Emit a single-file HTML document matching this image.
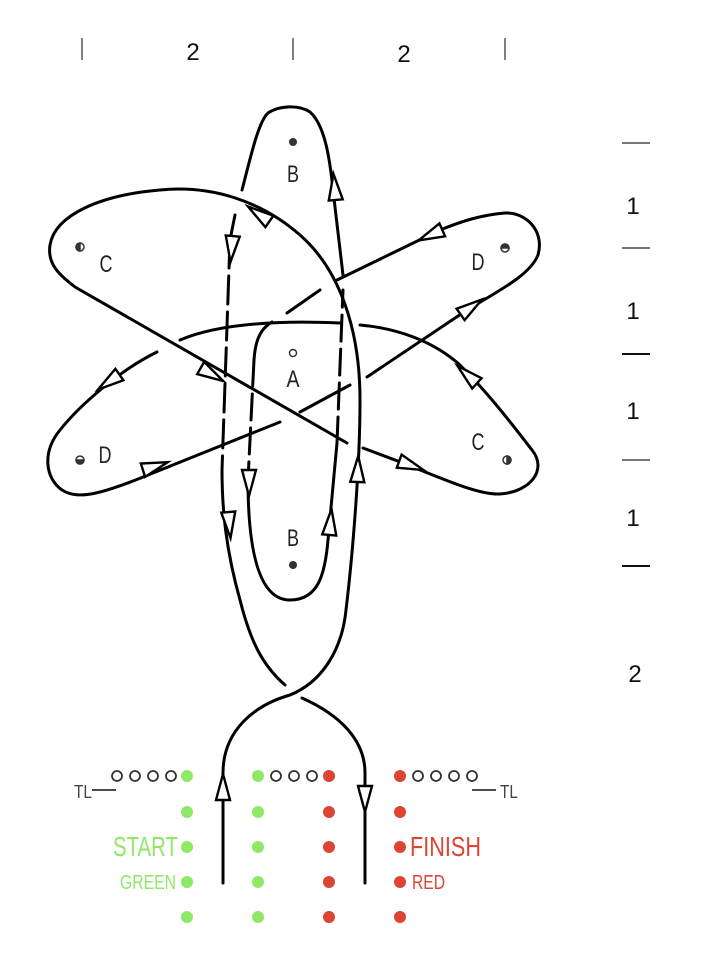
<!DOCTYPE html>
<html><head><meta charset="utf-8"><style>
html,body{margin:0;padding:0;background:#fff;}
svg{display:block;}
text{font-family:"Liberation Sans",sans-serif;}
</style></head><body>
<svg width="718" height="964" viewBox="0 0 718 964" xmlns="http://www.w3.org/2000/svg">
<g stroke="#555" stroke-width="1.5">
<line x1="82" y1="38" x2="82" y2="60"/><line x1="293" y1="38" x2="293" y2="60"/><line x1="505" y1="38" x2="505" y2="60"/>
</g>
<g font-size="24" fill="#111" text-anchor="middle">
<text x="193" y="60">2</text><text x="404" y="62">2</text>
</g>
<g stroke="#777" stroke-width="2">
<line x1="622" y1="143" x2="650" y2="143"/><line x1="622" y1="248" x2="650" y2="248"/>
<line x1="622" y1="354" x2="650" y2="354" stroke="#111"/><line x1="622" y1="460" x2="650" y2="460"/>
<line x1="622" y1="566" x2="650" y2="566" stroke="#111"/>
</g>
<g font-size="24" fill="#111" text-anchor="middle">
<text x="633" y="214">1</text><text x="633" y="319">1</text><text x="633" y="419">1</text><text x="633" y="526">1</text><text x="635" y="682">2</text>
</g>

<g fill="none" stroke="#000" stroke-width="3" stroke-linecap="round">
<path d="M223,883 L223,773 C223,730 255,705 290,695 C322,682 342,650 346,610 C352,560 360,470 360,400 C360,330 340,270 300,235 C260,200 210,185 160,190 C100,195 55,215 50,245 C47,265 60,275 75,287 L347,443"/>
<path d="M363,448 L403,463 C450,482 480,495 500,494 C530,492 548,470 532,450 C515,428 490,395 460,365 C432,340 395,328 360,325"/>
<path d="M340,323 C270,320 215,325 180,340"/>
<path d="M157,352 C120,370 80,405 60,430 C42,452 45,478 62,490 C78,500 100,495 153,473 L280,422"/>
<path d="M300,412 L350,385"/>
<path d="M367,377 L467,310 C500,290 530,275 538,255 C545,230 525,212 505,213 C480,215 460,222 440,230 L337,280"/>
<path d="M320,290 L287,313"/>
<path d="M272,322 C258,330 255,345 254,360"/>
<path d="M254,360 L248,480" stroke-dasharray="26 8"/>
<path d="M248,480 C248,560 262,600 290,600 C318,600 325,575 328,540 L337,443"/>
<path d="M337,443 L343,290" stroke-dasharray="26 8"/>
<path d="M343,275 L333,190 C330,160 325,125 310,112 C300,105 280,105 268,113 C258,122 250,160 242,190"/>
<path d="M235,215 L230,240"/>
<path d="M230,240 L222,470" stroke-dasharray="28 8"/>
<path d="M222,470 C222,510 226,550 240,600 C250,640 262,665 285,685"/>
<path d="M302,698 C340,715 365,740 365,773 L365,883"/>
</g>
<g fill="#fff" stroke="#000" stroke-width="2.4" stroke-linejoin="miter">
<polygon points="6,0 -20,-7 -20,7" transform="translate(334,180) rotate(-95)"/>
<polygon points="6,0 -20,-7 -20,7" transform="translate(231,256) rotate(95)"/>
<polygon points="6,0 -20,-7 -20,7" transform="translate(253,210) rotate(-145)"/>
<polygon points="6,0 -20,-7 -20,7" transform="translate(424,238) rotate(156)"/>
<polygon points="6,0 -20,-7 -20,7" transform="translate(477,303) rotate(-35)"/>
<polygon points="6,0 -20,-7 -20,7" transform="translate(218,378) rotate(30)"/>
<polygon points="6,0 -20,-7 -20,7" transform="translate(462,370) rotate(-138)"/>
<polygon points="6,0 -20,-7 -20,7" transform="translate(418,468) rotate(20)"/>
<polygon points="6,0 -20,-7 -20,7" transform="translate(103,386) rotate(145)"/>
<polygon points="6,0 -20,-7 -20,7" transform="translate(162,464) rotate(-18)"/>
<polygon points="6,0 -20,-7 -20,7" transform="translate(249,490) rotate(90)"/>
<polygon points="6,0 -20,-7 -20,7" transform="translate(331,515) rotate(-85)"/>
<polygon points="6,0 -20,-7 -20,7" transform="translate(358,462) rotate(-88)"/>
<polygon points="6,0 -20,-7 -20,7" transform="translate(230,532) rotate(85)"/>
<polygon points="6,0 -20,-7 -20,7" transform="translate(223,780) rotate(-90)"/>
<polygon points="6,0 -20,-7 -20,7" transform="translate(365,806) rotate(90)"/>
</g>
<g font-size="24" fill="#222" text-anchor="middle">
<text x="293" y="182" textLength="12" lengthAdjust="spacingAndGlyphs">B</text>
<text x="293" y="546" textLength="12" lengthAdjust="spacingAndGlyphs">B</text>
<text x="293" y="387" textLength="13" lengthAdjust="spacingAndGlyphs">A</text>
<text x="106" y="272" textLength="13" lengthAdjust="spacingAndGlyphs">C</text>
<text x="478" y="270" textLength="13" lengthAdjust="spacingAndGlyphs">D</text>
<text x="478" y="450" textLength="13" lengthAdjust="spacingAndGlyphs">C</text>
<text x="105" y="463" textLength="13" lengthAdjust="spacingAndGlyphs">D</text>
</g>
<g fill="#333">
<circle cx="293" cy="142" r="4"/><circle cx="293" cy="565" r="4"/>
</g>
<circle cx="293" cy="353" r="3.5" fill="#fff" stroke="#333" stroke-width="1.5"/>
<g stroke="#333" stroke-width="1.5">
<circle cx="80" cy="247" r="4" fill="#fff"/><path d="M80,243 A4,4 0 0,0 80,251 Z" fill="#333"/>
<circle cx="505" cy="248" r="4" fill="#fff"/><path d="M501,248 A4,4 0 0,1 509,248 Z" fill="#333"/>
<circle cx="507" cy="460" r="4" fill="#fff"/><path d="M507,456 A4,4 0 0,1 507,464 Z" fill="#333"/>
<circle cx="80" cy="460" r="4" fill="#fff"/><path d="M76,460 A4,4 0 0,0 84,460 Z" fill="#333"/>
</g>
<g fill="#8fe868">
<circle cx="187" cy="776" r="6"/><circle cx="187" cy="812" r="6"/><circle cx="187" cy="847" r="6"/><circle cx="187" cy="882" r="6"/><circle cx="187" cy="917" r="6"/>
<circle cx="258" cy="776" r="6"/><circle cx="258" cy="812" r="6"/><circle cx="258" cy="847" r="6"/><circle cx="258" cy="882" r="6"/><circle cx="258" cy="917" r="6"/>
</g>
<g fill="#dd4433">
<circle cx="329" cy="776" r="6"/><circle cx="329" cy="812" r="6"/><circle cx="329" cy="847" r="6"/><circle cx="329" cy="882" r="6"/><circle cx="329" cy="917" r="6"/>
<circle cx="400" cy="776" r="6"/><circle cx="400" cy="812" r="6"/><circle cx="400" cy="847" r="6"/><circle cx="400" cy="882" r="6"/><circle cx="400" cy="917" r="6"/>
</g>
<g fill="none" stroke="#333" stroke-width="1.8">
<circle cx="117" cy="776" r="5"/><circle cx="135" cy="776" r="5"/><circle cx="153" cy="776" r="5"/><circle cx="171" cy="776" r="5"/>
<circle cx="276" cy="776" r="5"/><circle cx="294" cy="776" r="5"/><circle cx="312" cy="776" r="5"/>
<circle cx="418" cy="776" r="5"/><circle cx="436" cy="776" r="5"/><circle cx="454" cy="776" r="5"/><circle cx="472" cy="776" r="5"/>
<line x1="92" y1="790" x2="116" y2="790"/><line x1="472" y1="790" x2="496" y2="790"/>
</g>
<g font-size="18" fill="#444">
<text x="74" y="798" textLength="18" lengthAdjust="spacingAndGlyphs">TL</text>
<text x="500" y="798" textLength="18" lengthAdjust="spacingAndGlyphs">TL</text>
</g>
<text x="178" y="856" font-size="28" fill="#8fe868" text-anchor="end" textLength="65" lengthAdjust="spacingAndGlyphs">START</text>
<text x="176" y="889" font-size="20" fill="#8fe868" text-anchor="end" textLength="56" lengthAdjust="spacingAndGlyphs">GREEN</text>
<text x="410" y="856" font-size="28" fill="#dd4433" textLength="71" lengthAdjust="spacingAndGlyphs">FINISH</text>
<text x="412" y="889" font-size="20" fill="#dd4433" textLength="33" lengthAdjust="spacingAndGlyphs">RED</text>
</svg>
</body></html>
